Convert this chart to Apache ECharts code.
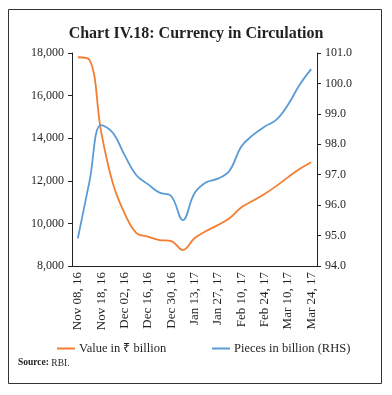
<!DOCTYPE html>
<html>
<head>
<meta charset="utf-8">
<script src="https://cdn.jsdelivr.net/npm/echarts@6/dist/echarts.min.js"></script>
<style>html,body{margin:0;padding:0;background:#fff;}#c{width:392px;height:395px;}</style>
</head>
<body>
<div id="c"></div>
<script>
const categories = ['Nov 08, 16','Nov 11, 16','Nov 18, 16','Nov 25, 16','Dec 02, 16','Dec 09, 16','Dec 16, 16','Dec 23, 16','Dec 30, 16','Jan 06, 17','Jan 13, 17','Jan 20, 17','Jan 27, 17','Feb 03, 17','Feb 10, 17','Feb 17, 17','Feb 24, 17','Mar 03, 17','Mar 10, 17','Mar 17, 17','Mar 24, 17'];
const valueBillion = [17800,17680,14300,11880,10480,9560,9380,9220,9170,8750,9300,9640,9920,10240,10750,11060,11380,11750,12160,12550,12870];
const piecesBillion = [94.91,96.78,98.63,98.38,97.65,96.99,96.69,96.41,96.30,95.51,96.39,96.75,96.87,97.13,97.92,98.30,98.58,98.80,99.29,99.95,100.47];
const leftTicks = {min: 8000, max: 18000, interval: 2000};
const rightTicks = {min: 94, max: 101, interval: 1};

const FONT = '"Liberation Serif", serif';
const TXT = '#231f20';
const chart = echarts.init(document.getElementById('c'), null, {renderer: 'canvas'});
chart.setOption({
  animation: false,
  backgroundColor: '#fff',
  textStyle: {fontFamily: FONT, color: TXT},
  title: {
    text: 'Chart IV.18: Currency in Circulation',
    left: 'center', top: 21,
    textStyle: {fontFamily: FONT, fontWeight: 'bold', fontSize: 16, color: TXT}
  },
  grid: {left: 72, right: 75, top: 53, bottom: 129, containLabel: false},
  legend: [
    {data: ['Value in ₹ billion'], left: 52, top: 337, itemWidth: 18, itemHeight: 2, icon: 'rect', itemGap: 4,
     textStyle: {fontFamily: FONT, fontSize: 12.5, color: TXT, padding: [0,0,0,-1]}},
    {data: ['Pieces in billion (RHS)'], left: 207, top: 337, itemWidth: 18, itemHeight: 2, icon: 'rect', itemGap: 4,
     textStyle: {fontFamily: FONT, fontSize: 12.5, color: TXT, padding: [0,0,0,-1]}}
  ],
  xAxis: {
    type: 'category', data: categories, boundaryGap: true,
    axisLine: {lineStyle: {color: '#222', width: 1}},
    axisTick: {interval: 0, length: 4, lineStyle: {color: '#222'}},
    axisLabel: {interval: 1, rotate: 90, fontSize: 13, fontFamily: FONT, color: TXT, margin: 6}
  },
  yAxis: [
    {type: 'value', min: leftTicks.min, max: leftTicks.max, interval: leftTicks.interval,
     splitLine: {show: false},
     axisLine: {show: true, lineStyle: {color: '#222'}},
     axisTick: {show: true, length: 4, lineStyle: {color: '#222'}},
     axisLabel: {fontSize: 12, fontFamily: FONT, color: TXT, margin: 8,
       formatter: v => v.toLocaleString('en-US') + ''}
    },
    {type: 'value', min: rightTicks.min, max: rightTicks.max, interval: rightTicks.interval,
     position: 'right',
     splitLine: {show: false},
     axisLine: {show: true, lineStyle: {color: '#222'}},
     axisTick: {show: true, length: 4, lineStyle: {color: '#222'}},
     axisLabel: {fontSize: 12, fontFamily: FONT, color: TXT, margin: 8,
       formatter: v => v.toFixed(1)}
    }
  ],
  series: [
    {name: 'Value in ₹ billion', type: 'line', data: valueBillion, yAxisIndex: 0,
     smooth: 0.4, symbol: 'none', lineStyle: {color: '#F47D30', width: 1.8}, itemStyle: {color: '#F47D30'}},
    {name: 'Pieces in billion (RHS)', type: 'line', data: piecesBillion, yAxisIndex: 1,
     smooth: 0.4, symbol: 'none', lineStyle: {color: '#5B9BD5', width: 1.8}, itemStyle: {color: '#5B9BD5'}}
  ],
  graphic: [
    {type: 'rect', shape: {x: 8.5, y: 9.5, width: 373, height: 374},
     style: {fill: 'none', stroke: '#333', lineWidth: 1}, silent: true},
    {type: 'text', left: 18, top: 358,
     style: {text: '{b|Source:} RBI.', rich: {b: {fontWeight: 'bold', fontSize: 9.5, fontFamily: FONT, fill: TXT}},
       fontSize: 9.5, fontFamily: FONT, fill: TXT}}
  ]
});
</script>
</body>
</html>
